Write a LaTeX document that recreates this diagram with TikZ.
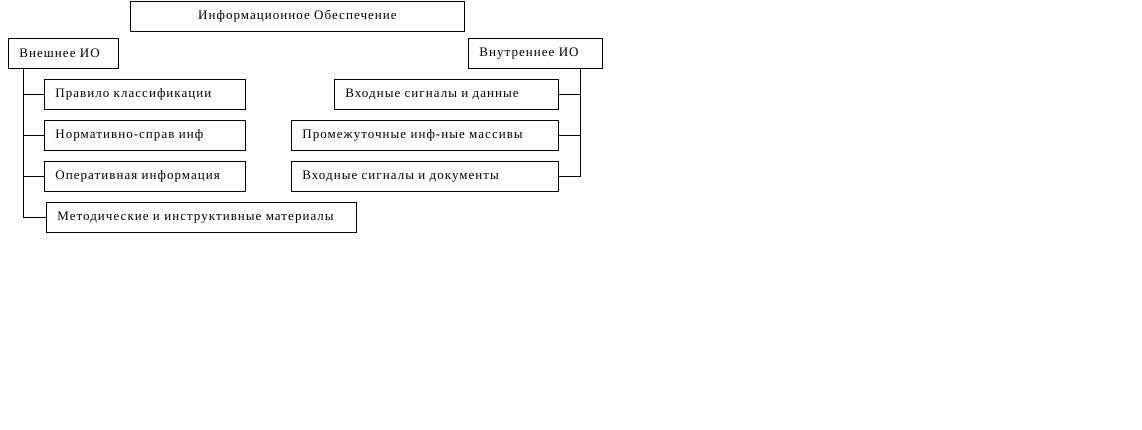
\documentclass[tikz,border=0pt]{standalone}
\usepackage{fontspec}
\setmainfont[LetterSpace=8]{Liberation Serif}
\tikzset{
  blocco/.style={draw, line width=0.8pt, anchor=north west, minimum height=30pt, inner xsep=11pt, inner ysep=0pt, text width=#1, align=left, font=\fontsize{13}{15}\selectfont},
  titolo/.style={draw, line width=0.8pt, anchor=north west, minimum height=30pt, minimum width=334pt, inner sep=0pt, font=\fontsize{13}{15}\selectfont},
  linea/.style={line width=0.8pt}
}
\begin{document}
\begin{tikzpicture}[x=1pt,y=-1pt]
      \useasboundingbox (0,0) rectangle (1142,430);
      %blocchi
      \node[titolo] (io) at (130,1) {Информационное Обеспечение};
      \node[blocco=88pt] (est) at (8,38) {Внешнее ИО};
      \node[blocco=112pt] (int) at (468,38) {Внутреннее ИО};
      \node[blocco=179pt] (e1) at (44,79) {Правило классификации};
      \node[blocco=179pt] (e2) at (44,120) {Нормативно-справ инф};
      \node[blocco=179pt] (e3) at (44,161) {Оперативная информация};
      \node[blocco=288pt] (e4) at (46,202) {Методические и инструктивные материалы};
      \node[blocco=202pt] (i1) at (334,79) {Входные сигналы и данные};
      \node[blocco=245pt] (i2) at (291,120) {Промежуточные инф-ные массивы};
      \node[blocco=245pt] (i3) at (291,161) {Входные сигналы и документы};
      %linee
      \coordinate (sx) at ([xshift=15pt]est.south west);
      \coordinate (dx) at ([xshift=-22pt]int.south east);
      \draw[linea] (sx) |- (e4.west);
      \draw[linea] (sx |- e1.west) -- (e1.west);
      \draw[linea] (sx |- e2.west) -- (e2.west);
      \draw[linea] (sx |- e3.west) -- (e3.west);
      \draw[linea] (dx) |- (i3.east);
      \draw[linea] (dx |- i1.east) -- (i1.east);
      \draw[linea] (dx |- i2.east) -- (i2.east);
\end{tikzpicture}
\end{document}
